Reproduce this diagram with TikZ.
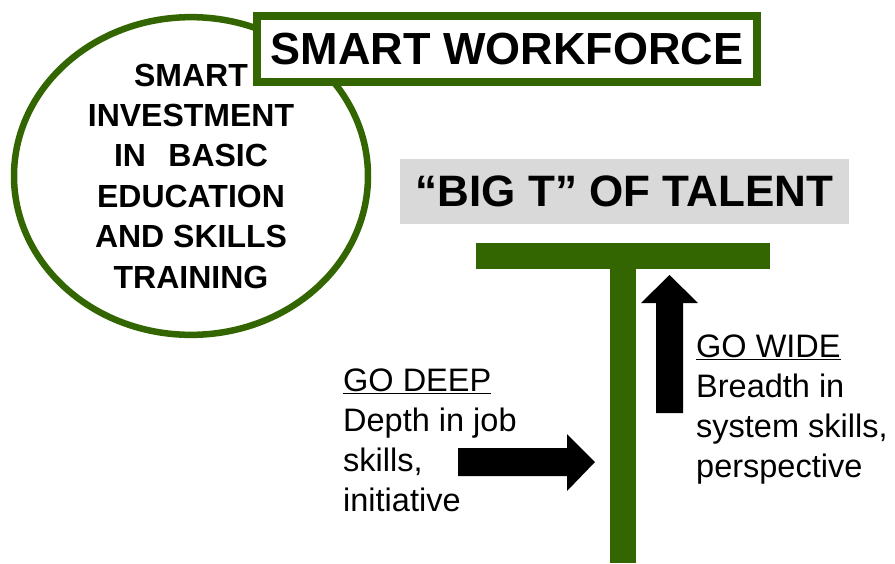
\documentclass[tikz,border=0pt]{standalone}
\usepackage{fontspec}
\setmainfont{Liberation Sans}
\usetikzlibrary{shapes.geometric}
\definecolor{tgreen}{RGB}{51,102,0}
\definecolor{tgrey}{RGB}{217,217,217}
\begin{document}
\begin{tikzpicture}[x=1pt,y=-1pt,
  greenframe/.style={draw=tgreen, inner sep=0pt, outer sep=0pt},
  bodytext/.style={font=\fontsize{32.5}{40}\selectfont, align=left, anchor=base west, inner sep=0pt},
  arrowshape/.style={fill=black, draw=none}]
\useasboundingbox (0,0) rectangle (895,563);
% ellipse
\node[ellipse, greenframe, line width=6.5pt, minimum width=354pt, minimum height=271pt,
      align=center, font=\bfseries\fontsize{32}{40.4}\selectfont] (invest) at (191,176)
  {SMART\\INVESTMENT\\IN\hspace{0.7em}BASIC\\EDUCATION\\AND SKILLS\\TRAINING};
% title box
\node[rectangle, greenframe, fill=white, line width=8pt, minimum width=500pt, minimum height=66pt,
      font=\bfseries\fontsize{45}{50}\selectfont] (workforce) at (507,49) {SMART WORKFORCE};
% big T title
\node[rectangle, fill=tgrey, inner sep=0pt, minimum width=449pt, minimum height=65pt,
      font=\bfseries\fontsize{44}{48}\selectfont] (bigt) at (624.5,191.5) {“BIG T” OF TALENT};
% the T
\fill[tgreen] (476,243) rectangle (770,269);
\fill[tgreen] (610,268) rectangle (636,563);
% up arrow
\fill[arrowshape] (656,413) -- (656,303) -- (641,303) -- (669.5,275) -- (698,303) -- (683,303) -- (683,413) -- cycle;
% right arrow
\fill[arrowshape] (458,448) -- (567,448) -- (567,434) -- (595,462) -- (567,491) -- (567,476) -- (458,476) -- cycle;
% texts (anchor at baseline of last line)
\node[bodytext] (deep) at (343,511) {\underline{GO DEEP}\\Depth in job\\skills,\\initiative};
\node[bodytext] (wide) at (696,477) {\underline{GO WIDE}\\Breadth in\\system skills,\\perspective};
\end{tikzpicture}
\end{document}
